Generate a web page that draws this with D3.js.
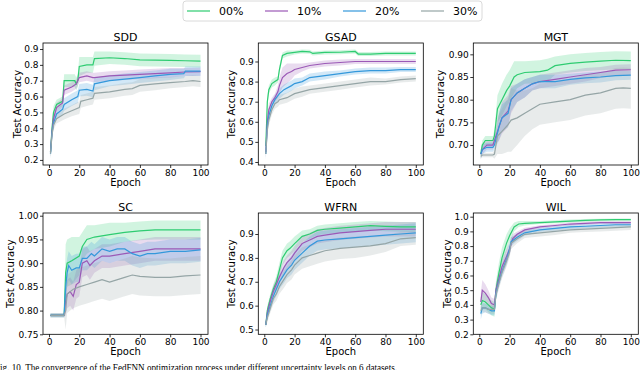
<!DOCTYPE html>
<html>
<head>
<meta charset="utf-8">
<script src="https://cdn.jsdelivr.net/npm/d3@7"></script>
<style>
  body { margin: 0; background: #fff; }
  svg text { font-family: "DejaVu Sans", sans-serif; fill: #000; }
  .caption { font-family: "Liberation Serif", serif; }
</style>
</head>
<body>
<div id="chart"></div>
<script>
// --- Data: [epoch, mean accuracy, half band width] ---
const seriesNames = ["00%", "10%", "20%", "30%"];
const panelTitles = ["SDD", "GSAD", "MGT", "SC", "WFRN", "WIL"];
const xTicks = [0, 20, 40, 60, 80, 100];

const SDD_00 = [[1,.25,.03],[2,.40,.04],[3,.50,.04],[5,.55,.03],[9,.57,.03],[10,.70,.04],[17,.70,.04],[18,.68,.04],[19,.70,.04],[20,.79,.06],[25,.80,.05],[29,.80,.05],[30,.84,.045],[40,.845,.04],[50,.84,.04],[60,.832,.04],[70,.83,.04],[80,.828,.04],[90,.826,.04],[100,.824,.04]];
const SDD_10 = [[1,.25,.03],[2,.38,.03],[3,.46,.03],[5,.53,.03],[9,.56,.03],[10,.64,.03],[15,.66,.03],[18,.68,.03],[20,.72,.03],[25,.73,.03],[29,.72,.03],[30,.72,.03],[40,.73,.03],[50,.735,.03],[60,.74,.03],[70,.745,.03],[80,.75,.03],[90,.755,.025],[100,.757,.025]];
const SDD_20 = [[1,.24,.03],[2,.37,.03],[3,.43,.03],[5,.49,.03],[9,.52,.03],[10,.55,.04],[15,.58,.04],[19,.60,.04],[20,.64,.04],[25,.645,.04],[29,.635,.04],[30,.68,.04],[40,.70,.035],[50,.71,.035],[60,.72,.035],[70,.73,.035],[80,.74,.035],[89,.745,.03],[90,.76,.03],[95,.76,.03],[100,.76,.03]];
const SDD_30 = [[1,.24,.03],[2,.36,.03],[3,.42,.03],[5,.46,.03],[10,.49,.035],[15,.51,.035],[20,.53,.04],[21,.57,.04],[25,.58,.04],[29,.59,.04],[30,.62,.04],[40,.63,.04],[50,.645,.04],[55,.65,.04],[60,.67,.04],[70,.68,.04],[80,.688,.035],[90,.695,.035],[95,.70,.035],[100,.695,.035]];

const GSAD_00 = [[1,.48,.03],[2,.70,.03],[3,.76,.02],[5,.79,.02],[7,.80,.02],[9,.81,.015],[10,.86,.02],[12,.93,.015],[15,.94,.015],[20,.945,.01],[25,.95,.01],[30,.948,.01],[32,.94,.01],[40,.945,.01],[50,.946,.01],[60,.95,.01],[62,.937,.01],[70,.937,.01],[80,.94,.01],[90,.94,.01],[100,.94,.01]];
const GSAD_10 = [[1,.45,.03],[2,.60,.03],[3,.66,.03],[5,.70,.02],[7,.72,.02],[9,.75,.03],[10,.78,.04],[12,.82,.05],[15,.84,.05],[18,.85,.04],[20,.86,.03],[25,.87,.02],[30,.88,.015],[40,.89,.015],[50,.895,.015],[60,.90,.012],[70,.90,.012],[80,.90,.012],[90,.90,.012],[100,.90,.012]];
const GSAD_20 = [[1,.44,.03],[2,.58,.03],[3,.63,.03],[5,.68,.025],[7,.71,.025],[9,.73,.025],[10,.74,.025],[13,.76,.025],[18,.78,.025],[20,.79,.025],[25,.80,.02],[30,.82,.02],[40,.83,.02],[50,.84,.015],[60,.85,.015],[70,.855,.015],[80,.855,.015],[90,.86,.012],[100,.86,.012]];
const GSAD_30 = [[1,.44,.02],[2,.56,.03],[3,.61,.03],[5,.66,.025],[7,.69,.025],[9,.70,.025],[10,.71,.025],[15,.72,.025],[20,.74,.025],[25,.75,.025],[30,.76,.02],[40,.77,.02],[50,.78,.02],[60,.79,.02],[70,.80,.02],[80,.80,.015],[90,.81,.015],[100,.815,.015]];

const MGT_00 = [[1,.68,.01],[2,.70,.01],[4,.71,.01],[9,.71,.01],[10,.72,.015],[12,.78,.03],[15,.80,.035],[18,.82,.035],[20,.83,.035],[23,.85,.035],[25,.855,.03],[30,.86,.025],[40,.862,.025],[45,.865,.025],[50,.875,.02],[60,.88,.02],[70,.883,.02],[80,.885,.02],[90,.887,.02],[100,.886,.02]];
const MGT_10 = [[1,.68,.01],[2,.69,.01],[5,.70,.01],[9,.70,.01],[10,.71,.01],[13,.74,.03],[15,.76,.035],[19,.775,.035],[21,.80,.03],[25,.815,.02],[30,.825,.02],[35,.835,.015],[40,.84,.015],[50,.845,.015],[60,.85,.015],[70,.855,.015],[80,.86,.012],[90,.865,.012],[100,.866,.012]];
const MGT_20 = [[1,.68,.01],[2,.69,.01],[5,.695,.01],[9,.695,.01],[10,.70,.01],[13,.74,.03],[15,.76,.03],[19,.77,.03],[21,.80,.025],[25,.815,.02],[30,.825,.02],[35,.835,.015],[40,.84,.015],[50,.84,.015],[60,.845,.012],[70,.848,.012],[80,.85,.012],[90,.853,.01],[100,.854,.01]];
const MGT_30 = [[1,.675,.005],[2,.678,.005],[9,.678,.005],[10,.68,.01],[12,.72,.04],[15,.73,.05],[19,.745,.06],[21,.755,.07],[25,.76,.06],[30,.77,.05],[35,.78,.045],[40,.79,.045],[50,.795,.045],[60,.80,.045],[70,.81,.045],[80,.815,.045],[90,.825,.045],[95,.826,.045],[100,.825,.045]];

const SC_00 = [[1,.79,.004],[10,.79,.004],[11,.88,.06],[12,.90,.05],[15,.905,.05],[20,.915,.04],[22,.935,.03],[25,.95,.03],[30,.955,.025],[40,.96,.025],[50,.965,.02],[60,.968,.02],[70,.97,.02],[80,.97,.02],[90,.97,.02],[100,.97,.02]];
const SC_10 = [[1,.79,.004],[10,.79,.004],[11,.82,.03],[12,.835,.03],[14,.84,.03],[16,.83,.03],[18,.855,.03],[20,.86,.03],[22,.90,.03],[25,.905,.03],[27,.895,.03],[30,.905,.025],[35,.915,.025],[40,.915,.025],[50,.92,.025],[60,.925,.025],[70,.93,.025],[80,.93,.025],[90,.93,.025],[100,.93,.025]];
const SC_20 = [[1,.79,.004],[10,.79,.004],[11,.85,.03],[12,.88,.03],[13,.895,.03],[15,.885,.03],[18,.89,.03],[20,.89,.03],[22,.91,.025],[25,.91,.025],[28,.92,.025],[30,.915,.025],[35,.93,.025],[40,.925,.025],[45,.93,.025],[50,.93,.025],[55,.92,.025],[60,.915,.025],[65,.92,.025],[70,.92,.025],[80,.925,.025],[90,.925,.025],[100,.928,.025]];
const SC_30 = [[1,.79,.004],[10,.79,.004],[11,.80,.04],[12,.835,.04],[14,.84,.04],[16,.845,.04],[20,.85,.04],[25,.855,.04],[30,.86,.04],[35,.865,.04],[40,.86,.04],[50,.87,.04],[55,.875,.04],[60,.872,.04],[70,.87,.04],[80,.87,.04],[90,.873,.04],[100,.875,.04]];

const WFRN_00 = [[1,.52,.01],[2,.58,.02],[4,.63,.02],[6,.67,.02],[8,.70,.025],[10,.75,.03],[12,.80,.03],[15,.83,.03],[17,.84,.03],[20,.86,.03],[25,.89,.025],[30,.90,.02],[35,.915,.02],[40,.92,.02],[50,.925,.02],[60,.93,.02],[70,.935,.02],[80,.932,.02],[90,.93,.02],[100,.93,.02]];
const WFRN_10 = [[1,.52,.01],[2,.57,.02],[4,.62,.02],[6,.66,.025],[8,.69,.025],[10,.72,.03],[13,.76,.03],[15,.78,.03],[18,.80,.03],[20,.82,.03],[25,.86,.03],[30,.875,.03],[35,.89,.03],[40,.895,.03],[50,.905,.03],[60,.91,.03],[70,.915,.03],[80,.92,.03],[90,.92,.03],[100,.92,.03]];
const WFRN_20 = [[1,.52,.01],[2,.56,.02],[4,.60,.02],[6,.64,.025],[8,.67,.03],[10,.70,.03],[13,.73,.035],[15,.75,.035],[18,.77,.04],[20,.79,.04],[25,.82,.04],[30,.85,.04],[35,.87,.04],[40,.875,.04],[50,.88,.04],[60,.885,.04],[70,.89,.04],[80,.895,.04],[90,.90,.04],[100,.905,.04]];
const WFRN_30 = [[1,.52,.01],[2,.55,.02],[4,.59,.02],[6,.63,.025],[8,.65,.03],[10,.68,.03],[13,.71,.035],[15,.73,.035],[18,.75,.04],[20,.77,.04],[25,.80,.045],[30,.81,.045],[35,.82,.045],[40,.83,.045],[50,.84,.045],[60,.845,.045],[70,.85,.04],[80,.86,.035],[90,.88,.03],[100,.885,.03]];

const WIL_00 = [[1,.40,.05],[2,.43,.06],[4,.42,.05],[6,.40,.05],[8,.38,.05],[10,.37,.05],[11,.50,.06],[13,.62,.07],[15,.72,.07],[18,.82,.06],[20,.87,.05],[23,.93,.03],[26,.95,.02],[30,.955,.015],[40,.96,.01],[50,.965,.01],[60,.97,.01],[70,.975,.01],[80,.978,.008],[90,.98,.008],[100,.98,.008]];
const WIL_10 = [[1,.42,.06],[2,.50,.07],[4,.48,.06],[6,.45,.05],[8,.41,.04],[10,.40,.04],[11,.50,.05],[13,.58,.05],[15,.66,.05],[18,.73,.05],[20,.78,.04],[22,.85,.03],[25,.88,.02],[30,.91,.015],[40,.93,.012],[50,.94,.01],[60,.95,.01],[70,.955,.01],[80,.96,.01],[90,.96,.01],[100,.96,.01]];
const WIL_20 = [[1,.34,.04],[2,.38,.04],[4,.38,.03],[6,.37,.03],[8,.36,.03],[10,.36,.03],[11,.48,.04],[13,.56,.04],[15,.63,.04],[18,.71,.04],[20,.78,.04],[21,.83,.03],[25,.86,.025],[30,.89,.02],[40,.91,.015],[50,.92,.015],[60,.93,.015],[70,.935,.015],[80,.94,.015],[90,.945,.015],[100,.945,.015]];
const WIL_30 = [[1,.36,.03],[2,.38,.03],[4,.38,.03],[6,.37,.03],[8,.37,.03],[10,.37,.03],[11,.47,.04],[13,.55,.04],[15,.62,.04],[18,.70,.04],[20,.76,.04],[21,.82,.04],[25,.85,.03],[30,.88,.025],[40,.89,.025],[50,.90,.025],[60,.91,.02],[70,.915,.02],[80,.92,.02],[90,.925,.02],[100,.93,.02]];

// y axis limits and tick labels per panel
const yTicksSDD  = [0.2, 0.3, 0.4, 0.5, 0.6, 0.7, 0.8, 0.9];
const yTicksGSAD = [0.4, 0.5, 0.6, 0.7, 0.8, 0.9];
const yTicksMGT  = [0.70, 0.75, 0.80, 0.85, 0.90];
const yTicksSC   = [0.75, 0.80, 0.85, 0.90, 0.95, 1.00];
const yTicksWFRN = [0.5, 0.6, 0.7, 0.8, 0.9];
const yTicksWIL  = [0.2, 0.3, 0.4, 0.5, 0.6, 0.7, 0.8, 0.9, 1.0];
const yLimits = [[0.168, 0.938], [0.385, 0.992], [0.656, 0.925], [0.75, 1.0057], [0.48, 0.988], [0.2, 1.025]];

// --- Build panel list ---
const panels = [
    { title: panelTitles[0], series: [SDD_00, SDD_10, SDD_20, SDD_30], ticks: yTicksSDD, fmt: ".1f" },
    { title: panelTitles[1], series: [GSAD_00, GSAD_10, GSAD_20, GSAD_30], ticks: yTicksGSAD, fmt: ".1f" },
    { title: panelTitles[2], series: [MGT_00, MGT_10, MGT_20, MGT_30], ticks: yTicksMGT, fmt: ".2f" },
    { title: panelTitles[3], series: [SC_00, SC_10, SC_20, SC_30], ticks: yTicksSC, fmt: ".2f" },
    { title: panelTitles[4], series: [WFRN_00, WFRN_10, WFRN_20, WFRN_30], ticks: yTicksWFRN, fmt: ".1f" },
    { title: panelTitles[5], series: [WIL_00, WIL_10, WIL_20, WIL_30], ticks: yTicksWIL, fmt: ".1f" }
];

const colors = ["#2ecc71", "#9b59b6", "#3498db", "#95a5a6"];
const width = 640, height = 370;
const colLeft = [43, 258.3, 473.3], rowTop = [43, 213];
const pw = 165, ph = [122, 121.3];
const yLabelX = [18, 232.7, 441.7, 11.7, 232.7, 448.3]; // centre of rotated y label

const svg = d3.select("#chart").append("svg")
    .attr("width", width)
    .attr("height", height)
    .attr("viewBox", `0 0 ${width} ${height}`);

// --- Draw each subplot ---
panels.forEach((p, idx) => {
    const col = idx % 3, row = Math.floor(idx / 3);
    const h = ph[row];
    const g = svg.append("g").attr("transform", `translate(${colLeft[col]},${rowTop[row]})`);

    const x = d3.scaleLinear().domain([-3.95, 104.95]).range([0, pw]);
    const y = d3.scaleLinear().domain(yLimits[idx]).range([h, 0]);

    const clipId = `clip${idx}`;
    g.append("clipPath").attr("id", clipId)
        .append("rect").attr("width", pw).attr("height", h);

    const plot = g.append("g").attr("clip-path", `url(#${clipId})`);

    const band = d3.area()
        .x(d => x(d[0]))
        .y0(d => y(d[1] - d[2]))
        .y1(d => y(d[1] + d[2]));
    const line = d3.line()
        .x(d => x(d[0]))
        .y(d => y(d[1]));

    // shaded std bands first, then mean lines
    p.series.forEach((s, i) => {
        plot.append("path")
            .datum(s)
            .attr("d", band)
            .attr("fill", colors[i])
            .attr("fill-opacity", 0.22)
            .attr("stroke", "none");
    });
    p.series.forEach((s, i) => {
        plot.append("path")
            .datum(s)
            .attr("d", line)
            .attr("fill", "none")
            .attr("stroke", colors[i])
            .attr("stroke-width", 1.2);
    });

    // axes
    const xAxis = g.append("g").attr("transform", `translate(0,${h})`)
        .call(d3.axisBottom(x).tickValues(xTicks).tickSize(3).tickPadding(1.5).tickSizeOuter(0));
    const yAxis = g.append("g")
        .call(d3.axisLeft(y).tickValues(p.ticks).tickFormat(d3.format(p.fmt)).tickSize(3).tickPadding(1.5).tickSizeOuter(0));
    [xAxis, yAxis].forEach(a => {
        a.select(".domain").remove();
        a.selectAll(".tick line").attr("stroke", "#000").attr("stroke-width", 0.8);
        a.selectAll(".tick text").style("font-family", "'DejaVu Sans', sans-serif").style("font-size", "9px");
    });

    // frame
    g.append("rect")
        .attr("width", pw).attr("height", h)
        .attr("fill", "none").attr("stroke", "#000").attr("stroke-width", 0.8);

    // title and labels
    g.append("text")
        .attr("x", pw / 2).attr("y", -2)
        .attr("text-anchor", "middle")
        .style("font-size", "11px")
        .text(p.title);
    g.append("text")
        .attr("x", pw / 2).attr("y", h + 20.5)
        .attr("text-anchor", "middle")
        .style("font-size", "10px")
        .text("Epoch");
    const ylx = yLabelX[idx] - colLeft[col];
    g.append("text")
        .attr("transform", `translate(${ylx + 2.5},${h / 2}) rotate(-90)`)
        .attr("text-anchor", "middle")
        .style("font-size", "10px")
        .text("Test Accuracy");
});

// --- Legend ---
const legend = svg.append("g");
legend.append("rect")
    .attr("x", 183).attr("y", 1).attr("width", 299).attr("height", 20).attr("rx", 3)
    .attr("fill", "#fff").attr("stroke", "#d0d0d0").attr("stroke-width", 0.8);
seriesNames.forEach((name, i) => {
    const lx = 187 + i * 78;
    legend.append("line")
        .attr("x1", lx).attr("x2", lx + 23).attr("y1", 11).attr("y2", 11)
        .attr("stroke", colors[i]).attr("stroke-width", 1.2);
    legend.append("text")
        .attr("x", lx + 32).attr("y", 15)
        .style("font-size", "11px")
        .text(name);
});

// --- Caption (cut at the bottom edge like the source) ---
svg.append("text")
    .attr("class", "caption")
    .attr("x", -5).attr("y", 370.5)
    .attr("textLength", 402).attr("lengthAdjust", "spacingAndGlyphs")
    .style("font-size", "10.5px")
    .text("Fig. 10.  The convergence of the FedFNN optimization process under different uncertainty levels on 6 datasets.");
</script>
</body>
</html>
